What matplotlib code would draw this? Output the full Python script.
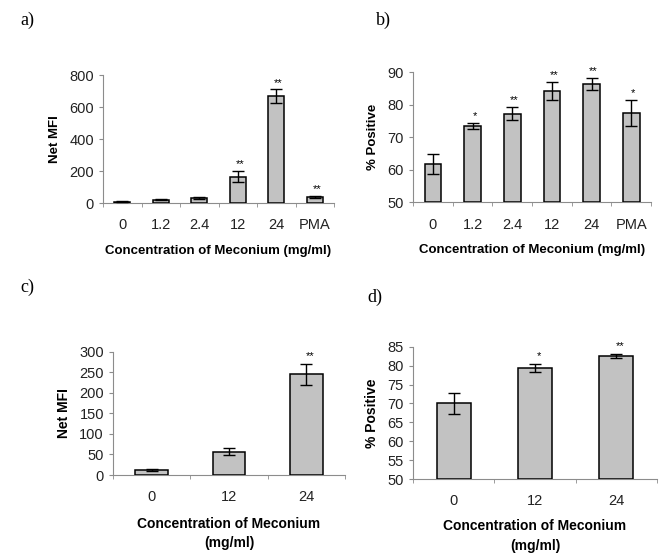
import matplotlib.pyplot as plt
import numpy as np

plt.rcParams['font.family'] = ['Liberation Sans', 'DejaVu Sans']

# Panel a: Net MFI, six conditions
a_labels = ['0', '1.2', '2.4', '12', '24', 'PMA']
a_values = [8, 20, 32, 165, 668, 38]
a_errors = [3, 3, 4, 35, 42, 8]
a_stars = ['', '', '', '**', '**', '**']

# Panel b: % positive, six conditions
b_labels = ['0', '1.2', '2.4', '12', '24', 'PMA']
b_values = [61.8, 73.5, 77.2, 84.3, 86.4, 77.4]
b_errors = [3.0, 0.8, 2.0, 2.7, 1.8, 4.0]
b_stars = ['', '*', '**', '**', '**', '*']

# Panel c: Net MFI, three conditions
c_labels = ['0', '12', '24']
c_values = [12, 57, 245]
c_errors = [3, 8, 26]
c_stars = ['', '', '**']

# Panel d: % positive, three conditions
d_labels = ['0', '12', '24']
d_values = [70.0, 79.4, 82.5]
d_errors = [2.7, 1.0, 0.5]
d_stars = ['', '*', '**']

BAR_COLOR = '#c2c2c2'
AXIS_COLOR = '#8c8c8c'


def draw_panel(ax, labels, values, errors, stars, ylim, yticks, ylabel, xlabel,
               tick_pad, xlabel_pad, star_pad, label_size=9.5):
    x = np.arange(len(labels))
    base = ylim[0]
    heights = np.array(values) - base
    ax.bar(x, heights, width=0.42, bottom=base, color=BAR_COLOR,
           edgecolor='black', linewidth=1.1, zorder=3)
    ax.errorbar(x, values, yerr=errors, fmt='none', ecolor='black',
                elinewidth=1.0, capsize=4, capthick=1.0, zorder=4)
    for xi, v, e, s in zip(x, values, errors, stars):
        if s:
            ax.text(xi + 0.05, v + e + star_pad, s, ha='center', va='bottom',
                    fontsize=8, zorder=5)

    ax.set_xlim(-0.5, len(labels) - 0.5)
    ax.set_ylim(*ylim)
    ax.set_yticks(yticks)
    ax.set_xticks(x)
    ax.set_xticklabels(labels)
    # small tick marks sit between the categories
    ax.set_xticks(np.arange(len(labels) + 1) - 0.5, minor=True)
    ax.tick_params(axis='x', which='major', length=0, pad=tick_pad,
                   labelsize=10.5, colors='#222222')
    ax.tick_params(axis='x', which='minor', length=3, color=AXIS_COLOR)
    ax.tick_params(axis='y', length=3, color=AXIS_COLOR, labelsize=10.5,
                   labelcolor='#222222')

    for side in ['top', 'right']:
        ax.spines[side].set_visible(False)
    for side in ['left', 'bottom']:
        ax.spines[side].set_color(AXIS_COLOR)
        ax.spines[side].set_linewidth(0.8)

    ax.set_ylabel(ylabel, fontsize=label_size, fontweight='bold', labelpad=6)
    ax.set_xlabel(xlabel, fontsize=label_size, fontweight='bold',
                  labelpad=xlabel_pad, linespacing=1.5)


fig = plt.figure(figsize=(6.62, 5.57), dpi=100)

ax_a = fig.add_axes([0.1556, 0.6355, 0.349, 0.2298])
draw_panel(ax_a, a_labels, a_values, a_errors, a_stars, (0, 800),
           [0, 200, 400, 600, 800], 'Net MFI',
           'Concentration of Meconium (mg/ml)', 11, 9, 10)

ax_b = fig.add_axes([0.6239, 0.6368, 0.3595, 0.2334])
draw_panel(ax_b, b_labels, b_values, b_errors, b_stars, (50, 90),
           [50, 60, 70, 80, 90], '% Positive',
           'Concentration of Meconium (mg/ml)', 11, 9, 0.6)

ax_c = fig.add_axes([0.1707, 0.1472, 0.3505, 0.2214])
draw_panel(ax_c, c_labels, c_values, c_errors, c_stars, (0, 300),
           [0, 50, 100, 150, 200, 250, 300], 'Net MFI',
           'Concentration of Meconium\n(mg/ml)', 11, 9, 6, label_size=10)

ax_d = fig.add_axes([0.6239, 0.140, 0.3686, 0.2375])
draw_panel(ax_d, d_labels, d_values, d_errors, d_stars, (50, 85),
           [50, 55, 60, 65, 70, 75, 80, 85], '% Positive',
           'Concentration of Meconium\n(mg/ml)', 11, 8, 0.8, label_size=10)

# panel letters
for txt, px, py in [('a)', 20, 20), ('b)', 376, 20), ('c)', 20, 287), ('d)', 367, 297)]:
    fig.text(px / 662, 1 - py / 557, txt, fontsize=13, family='Liberation Serif',
             ha='left', va='center')

fig.savefig('out.png', dpi=100)
